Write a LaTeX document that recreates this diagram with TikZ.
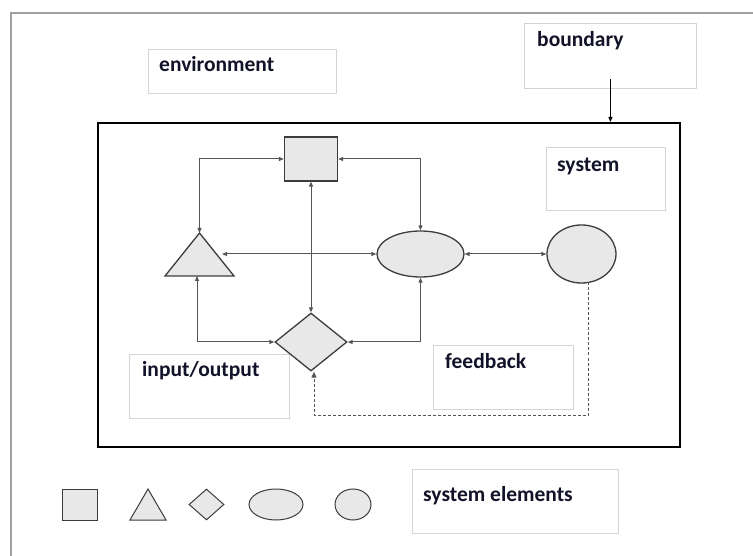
\documentclass[tikz,border=0pt]{standalone}
\usepackage{fontspec}
\setmainfont{Carlito}
\usetikzlibrary{shapes.geometric,arrows.meta}

\definecolor{framegray}{RGB}{160,160,160}
\definecolor{boxgray}{RGB}{212,212,212}
\definecolor{linegray}{RGB}{85,85,85}
\definecolor{shapefill}{RGB}{232,232,232}
\definecolor{shapeline}{RGB}{60,60,60}
\definecolor{labelink}{RGB}{18,18,40}

\begin{document}
\begin{tikzpicture}[x=1pt,y=-1pt,
  labelbox/.style={draw=boxgray, line width=0.9pt, inner sep=0pt, anchor=north west},
  labeltext/.style={anchor=base west, inner sep=0pt, text=labelink,
    font=\bfseries\fontsize{21.5}{24}\selectfont},
  elem/.style={draw=shapeline, fill=shapefill, line width=1.3pt, inner sep=0pt},
  legend/.style={elem, line width=1pt},
  tip/.tip={Triangle[length=5pt,width=4pt]},
  link/.style={draw=linegray, line width=1pt, tip-tip},
  onelink/.style={draw=black, line width=1pt, -tip},
  feedbackline/.style={draw=linegray, line width=1pt, dash pattern=on 3pt off 2pt,
    -{Triangle[length=6pt,width=5pt]}}]

\useasboundingbox (0,0) rectangle (753,556);

% environment frame
\draw[framegray, line width=1.8pt] (11,556) -- (11,13) -- (753,13);

% label boxes
\node[labelbox, minimum width=188pt, minimum height=44pt] (envbox) at (148,49) {};
\node[labeltext] at ([xshift=11pt,yshift=-23pt]envbox.north west) {environment};
\node[labelbox, minimum width=172pt, minimum height=65pt] (bndbox) at (524,23) {};
\node[labeltext] at ([xshift=13pt,yshift=-24pt]bndbox.north west) {boundary};

% system boundary
\node[draw=black, line width=2pt, inner sep=0pt, anchor=north west,
      minimum width=582pt, minimum height=324pt] (sys) at (97,122) {};
\draw[onelink] ([yshift=10pt]bndbox.south) -- (bndbox.south |- sys.north);

\node[labelbox, minimum width=119pt, minimum height=63pt] (sysbox) at (546,147) {};
\node[labeltext] at ([xshift=11pt,yshift=-25pt]sysbox.north west) {system};
\node[labelbox, minimum width=160pt, minimum height=64pt] (iobox) at (129,354) {};
\node[labeltext] at ([xshift=13pt,yshift=-23pt]iobox.north west) {input/output};
\node[labelbox, minimum width=140pt, minimum height=64pt] (fbbox) at (433,345) {};
\node[labeltext] at ([xshift=12pt,yshift=-23pt]fbbox.north west) {feedback};

% system elements
\coordinate (tritop) at (199.5,233);
\coordinate (tribl) at (165,276);
\coordinate (tribr) at (234,276);
\coordinate (tribot) at (197,276);
\coordinate (triright) at (222,254);
\draw[elem] (tritop) -- (tribr) -- (tribl) -- cycle;

\node[elem, minimum width=53pt, minimum height=44pt] (sq) at (311,159) {};
\node[elem, ellipse, minimum width=87pt, minimum height=46pt] (ell) at (420.5,254) {};
\node[elem, ellipse, minimum width=69pt, minimum height=58pt] (cir) at (581.5,254) {};
\node[elem, diamond, minimum width=72pt, minimum height=58pt] (dia) at (311,342) {};

% relations between elements
\draw[link] (tritop) |- (sq.west);
\draw[link] (sq.east) -| (ell.north);
\draw[link] (triright) -- (triright -| ell.west);
\draw[link] (sq.south) -- (dia.north);
\draw[link] (tribot) |- (dia.west);
\draw[link] (dia.east) -| (ell.south);
\draw[link] (ell.east) -- (cir.west);

% feedback loop
\coordinate (fbstart) at (588,282.5);
\coordinate (fbturn) at (314,415);
\draw[feedbackline] (fbstart) |- (fbturn) -- (fbturn |- dia.south);

% legend
\node[legend, minimum width=35pt, minimum height=31pt] (lsq) at (79.5,504.5) {};
\coordinate (ltop) at (148,489);
\coordinate (lbl) at (130,520);
\coordinate (lbr) at (166,520);
\draw[legend] (ltop) -- (lbr) -- (lbl) -- cycle;
\node[legend, diamond, minimum width=35pt, minimum height=31pt] (ldia) at (206.5,504.5) {};
\node[legend, ellipse, minimum width=54pt, minimum height=31pt] (lell) at (276,504.5) {};
\node[legend, ellipse, minimum width=36pt, minimum height=31pt] (lcir) at (353,504.5) {};

\node[labelbox, minimum width=206pt, minimum height=64pt] (elbox) at (412,469) {};
\node[labeltext] at ([xshift=11pt,yshift=-32pt]elbox.north west) {system elements};
\end{tikzpicture}
\end{document}
